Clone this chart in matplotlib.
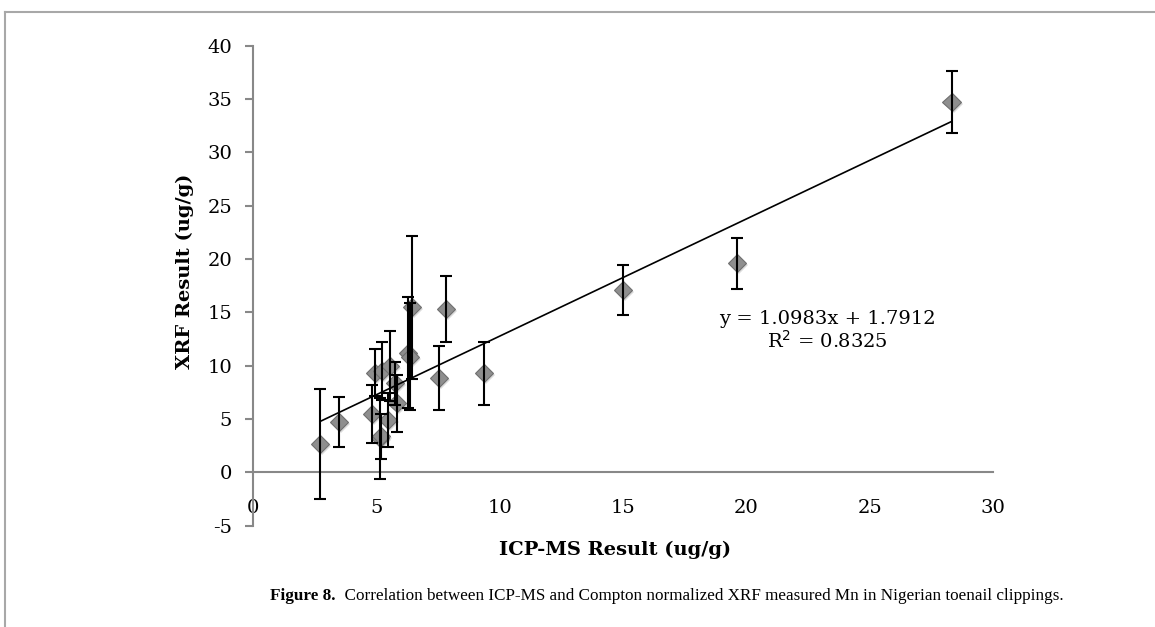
import numpy as np
import matplotlib
matplotlib.use("Agg")
import matplotlib.pyplot as plt
import matplotlib.patheffects as pe
from matplotlib.lines import Line2D

plt.rcParams['axes.unicode_minus'] = False
plt.rcParams['font.family'] = ['DejaVu Serif']

# ICP-MS (x) vs XRF (y) Mn results, ug/g
icp_ms = [2.72, 3.49, 4.81, 4.95, 5.15, 5.20, 5.24, 5.48, 5.55, 5.76,
          5.82, 6.28, 6.36, 6.43, 7.55, 7.81, 9.38, 14.99, 19.61, 28.32]
xrf = [2.66, 4.75, 5.47, 9.34, 3.20, 3.40, 9.50, 4.91, 9.97, 8.35,
       6.48, 11.20, 10.85, 15.50, 8.82, 15.30, 9.29, 17.10, 19.60, 34.70]
xrf_err = [5.15, 2.36, 2.75, 2.20, 3.80, 2.10, 2.70, 2.55, 3.30, 2.00,
           2.70, 5.20, 5.00, 6.70, 3.00, 3.10, 2.95, 2.30, 2.40, 2.90]

slope = 1.0983
intercept = 1.7912
r_squared = 0.8325

x_ticks = [0, 5, 10, 15, 20, 25, 30]
y_ticks = [-5, 0, 5, 10, 15, 20, 25, 30, 35, 40]

axis_grey = "#888888"

fig = plt.figure(figsize=(11.55, 6.27), dpi=100)
ax = fig.add_axes([0.219, 0.1614, 0.6407, 0.7657])

# markers with a soft shadow
ax.plot(icp_ms, xrf, linestyle="none", marker="D", markersize=9.2,
        markerfacecolor="#8e8e8e", markeredgecolor="#6f6f6f", markeredgewidth=0.8,
        zorder=3,
        path_effects=[pe.SimplePatchShadow(offset=(1.5, -1.5), shadow_rgbFace="#999999", alpha=0.35),
                      pe.Normal()])

# error bars on top of the markers
ax.errorbar(icp_ms, xrf, yerr=xrf_err, fmt="none", ecolor="black",
            elinewidth=1.5, capsize=4, capthick=1.5, zorder=4)

# linear trend line over the data range
xs = np.array([min(icp_ms), max(icp_ms)])
ax.plot(xs, slope * xs + intercept, color="black", linewidth=1.2, zorder=5)

ax.text(0.776, 0.406, f"y = {slope}x + {intercept}\nR$^2$ = {r_squared}",
        transform=ax.transAxes, ha="center", va="center", fontsize=14,
        linespacing=1.15)

for side in ["top", "right"]:
    ax.spines[side].set_visible(False)
ax.spines["bottom"].set_position(("data", 0))
ax.spines["left"].set_position(("data", 0))
for side in ["bottom", "left"]:
    ax.spines[side].set_color(axis_grey)
    ax.spines[side].set_linewidth(1.5)

ax.set_xlim(0, 30)
ax.set_ylim(-5, 40)
ax.set_xticks(x_ticks)
ax.set_yticks(y_ticks)
ax.set_xticklabels([str(t) for t in x_ticks])
ax.set_yticklabels([str(t) for t in y_ticks])
ax.tick_params(axis="x", length=0, pad=19, labelsize=14)
ax.tick_params(axis="y", direction="out", length=6, width=1.5, color=axis_grey,
               pad=9, labelsize=14)

ax.set_xlabel("ICP-MS Result (ug/g)", fontsize=14, fontweight="bold")
ax.set_ylabel("XRF Result (ug/g)", fontsize=14, fontweight="bold")
ax.xaxis.label.set_verticalalignment("center")
ax.yaxis.label.set_verticalalignment("center")
ax.xaxis.set_label_coords(0.489, -0.05)
ax.yaxis.set_label_coords(-0.092, 0.53)

# journal frame lines
fig.add_artist(Line2D([5 / 1155, 1], [1 - 12 / 627, 1 - 12 / 627], color="#a8a8a8", linewidth=1.5))
fig.add_artist(Line2D([5 / 1155, 5 / 1155], [0, 1 - 12 / 627], color="#a8a8a8", linewidth=1.5))

# caption
cap_bold = fig.text(270 / 1155, 1 - 596 / 627, "Figure 8.", family="Liberation Serif",
                    fontsize=12.3, fontweight="bold", va="center", ha="left")
ax.annotate("  Correlation between ICP-MS and Compton normalized XRF measured Mn in Nigerian toenail clippings.",
            xy=(1, 0), xycoords=cap_bold, va="bottom", ha="left",
            family="Liberation Serif", fontsize=12.3, annotation_clip=False)

fig.savefig("out.png", dpi=100)
